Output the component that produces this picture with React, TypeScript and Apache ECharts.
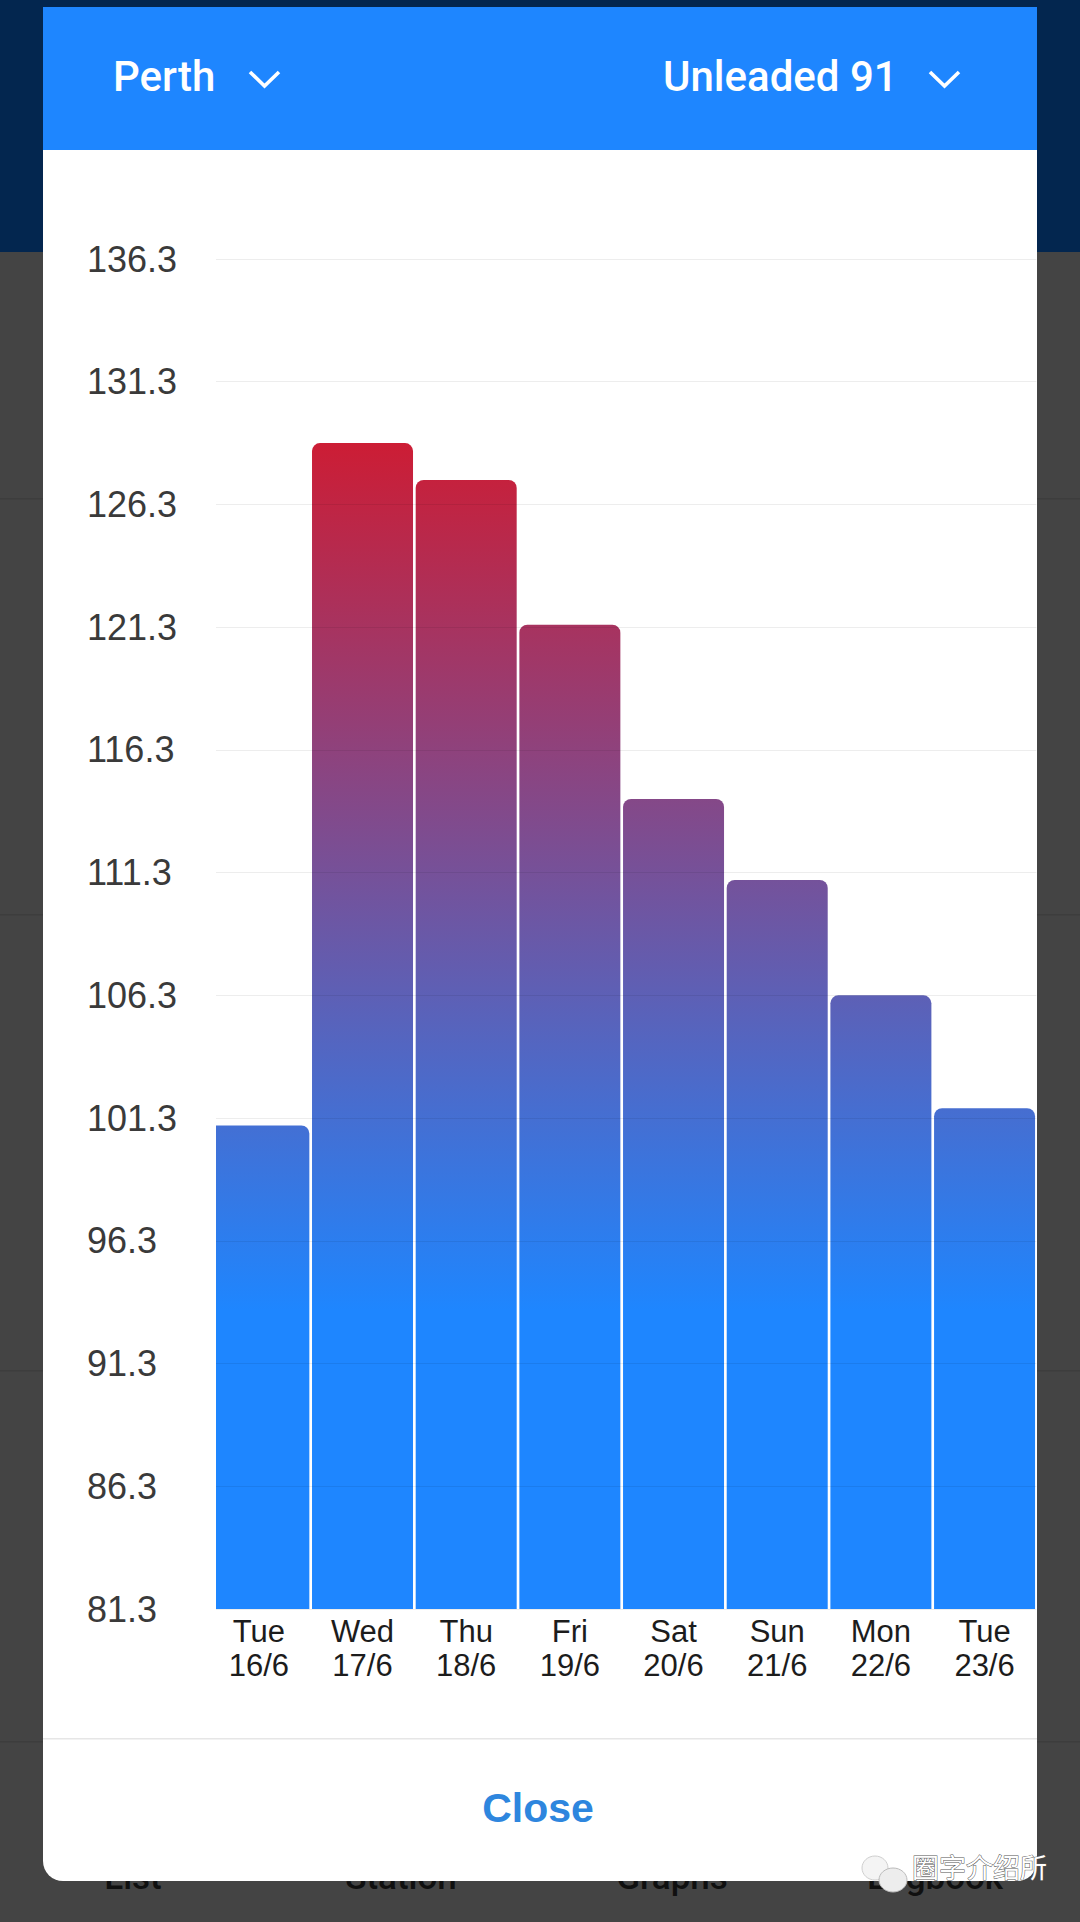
import React, { useEffect, useRef } from "react";
import * as echarts from "echarts";

const categories = ["Tue\n16/6", "Wed\n17/6", "Thu\n18/6", "Fri\n19/6", "Sat\n20/6", "Sun\n21/6", "Mon\n22/6", "Tue\n23/6"];
const prices = [101.0, 128.8, 127.3, 121.4, 114.3, 111.0, 106.3, 101.7];
const yTicks = [81.3, 86.3, 91.3, 96.3, 101.3, 106.3, 111.3, 116.3, 121.3, 126.3, 131.3, 136.3];
const footerTabs = ["List", "Station", "Graphs", "Logbook"];
const footerTabX = [133, 401, 672, 935];
const backdropRules = [498, 914, 1370, 1741];

const SANS = "'Liberation Sans', Arial, sans-serif";

export default function App() {
  const ref = useRef<HTMLDivElement>(null);
  useEffect(() => {
    const chart = echarts.init(ref.current!, undefined, { renderer: "svg" });
    const chevron = (x: number) => ({
      type: "polyline",
      z: -5,
      shape: { points: [[x, 72], [x + 14.5, 86], [x + 29, 72]] },
      style: { fill: "none", stroke: "#fff", lineWidth: 3.6 },
    });
    const graphics: any[] = [
      { type: "rect", z: -20, shape: { x: 0, y: 0, width: 1080, height: 1922 }, style: { fill: "#444444" } },
      { type: "rect", z: -19, shape: { x: 0, y: 0, width: 1080, height: 252 }, style: { fill: "#03264F" } },
      ...backdropRules.map((y) => ({
        type: "rect", z: -19, shape: { x: 0, y, width: 1080, height: 1.5 }, style: { fill: "#3D3D3D" },
      })),
      ...footerTabs.map((t, i) => ({
        type: "text", z: -18, x: footerTabX[i], y: 1877,
        style: { text: t, fill: "#101010", font: `500 35px Roboto, ${SANS}`, align: "center", verticalAlign: "middle" },
      })),
      { type: "rect", z: -10, shape: { x: 43, y: 7, width: 994, height: 1874, r: [0, 0, 20, 20] }, style: { fill: "#fff" } },
      { type: "rect", z: -9, shape: { x: 43, y: 7, width: 994, height: 143 }, style: { fill: "#1E86FF" } },
      { type: "rect", z: -9, shape: { x: 43, y: 1738, width: 994, height: 1.5 }, style: { fill: "#E6E6E6" } },
      {
        type: "text", z: -5, x: 113, y: 76,
        style: { text: "Perth", fill: "#fff", font: `500 42px Roboto, ${SANS}`, verticalAlign: "middle" },
      },
      chevron(250),
      {
        type: "text", z: -5, x: 663, y: 76,
        style: { text: "Unleaded 91", fill: "#fff", font: `500 42px Roboto, ${SANS}`, verticalAlign: "middle" },
      },
      chevron(930),
      {
        type: "text", z: -5, x: 538, y: 1808,
        style: { text: "Close", fill: "#2E86DE", font: `bold 41px ${SANS}`, align: "center", verticalAlign: "middle" },
      },
      // Masks the part of the first band that lies left of the visible plot
      { type: "rect", z: 20, shape: { x: 205, y: 250, width: 11, height: 1365 }, style: { fill: "#fff" } },
      // Watermark
      { type: "ellipse", z: 30, shape: { cx: 875, cy: 1868, rx: 13, ry: 12 }, style: { fill: "#F4F4F4", stroke: "#cfcfcf", lineWidth: 1 } },
      { type: "ellipse", z: 31, shape: { cx: 893, cy: 1880, rx: 14, ry: 12 }, style: { fill: "#EDEDED", stroke: "#bbbbbb", lineWidth: 1 } },
      {
        type: "text", z: 30, x: 912, y: 1866,
        style: {
          text: "圈字介绍所", fill: "#ffffff", stroke: "#555555", lineWidth: 1,
          font: "27px 'Noto Sans CJK SC'", verticalAlign: "middle",
        },
      },
    ];

    chart.setOption({
      animation: false,
      grid: { left: 207, right: 43.6, top: 259, bottom: 1922 - 1609, containLabel: false },
      graphic: { elements: graphics },
      xAxis: {
        type: "category",
        data: categories,
        axisLine: { show: false },
        axisTick: { show: false },
        axisLabel: {
          color: "#1c1c1c", fontFamily: SANS, fontSize: 31, lineHeight: 34, margin: 5, interval: 0,
        },
      },
      yAxis: {
        type: "value",
        min: yTicks[0],
        max: yTicks[yTicks.length - 1],
        z: 3,
        axisLine: { show: false },
        axisTick: { show: false, customValues: yTicks },
        axisLabel: {
          customValues: yTicks,
          formatter: (v: number) => v.toFixed(1),
          color: "#3a3a3a", fontFamily: SANS, fontSize: 36, align: "left", margin: 120,
          padding: [2, 0, 0, 0],
          showMinLabel: true, showMaxLabel: true,
        },
        splitLine: { show: true, lineStyle: { color: "rgba(0,0,0,0.07)", width: 1.2 } },
      },
      series: [
        {
          type: "bar",
          data: prices,
          barWidth: 101,
          silent: true,
          itemStyle: {
            borderRadius: [8, 8, 0, 0],
            color: new echarts.graphic.LinearGradient(
              0, 444, 0, 1310,
              [
                { offset: 0, color: "#CC1D35" },
                { offset: 1, color: "#1E86FF" },
              ],
              true
            ),
          },
        },
      ],
    });
    return () => chart.dispose();
  }, []);
  return <div ref={ref} style={{ position: "absolute", left: 0, top: 0, width: 1080, height: 1922 }} />;
}
